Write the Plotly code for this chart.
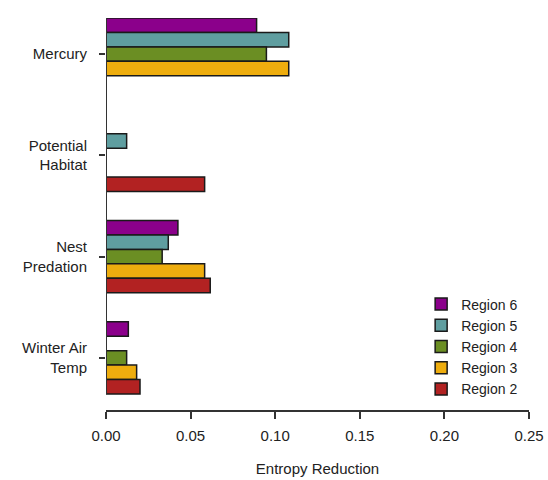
import plotly.graph_objects as go

categories = ["Mercury", "Potential<br>Habitat", "Nest<br>Predation", "Winter Air<br>Temp"]
regions = ["Region 6", "Region 5", "Region 4", "Region 3", "Region 2"]
region6 = [0.089, 0.0, 0.0425, 0.0132]
region5 = [0.108, 0.0122, 0.0368, 0.0]
region4 = [0.0948, 0.0, 0.0332, 0.0122]
region3 = [0.108, 0.0, 0.0583, 0.0181]
region2 = [0.0, 0.0583, 0.0616, 0.0201]
series = [region6, region5, region4, region3, region2]
colors = ["#8B008B", "#5F9EA0", "#6B8E23", "#EEAD0E", "#B22222"]
x_ticks = [0.0, 0.05, 0.10, 0.15, 0.20, 0.25]

FONT = "Liberation Sans, Arial, sans-serif"
TXT = "#222222"
bargap = 0.287
half = (1 - bargap) / 2

fig = go.Figure()
for name, vals, col in zip(regions, series, colors):
    fig.add_trace(go.Bar(
        y=categories, x=vals, name=name, orientation="h",
        marker=dict(color=col, line=dict(color="#1a1a1a", width=1.5)),
    ))

fig.update_layout(
    width=548, height=480,
    margin=dict(l=106, r=19, t=17.5, b=70),
    paper_bgcolor="white", plot_bgcolor="white",
    barmode="group", bargap=bargap, bargroupgap=0,
    font=dict(family=FONT, size=15, color=TXT),
    showlegend=True,
    legend=dict(x=0.745, y=0.31, xanchor="left", yanchor="top",
                bgcolor="rgba(0,0,0,0)", font=dict(size=14, color=TXT),
                tracegroupgap=0),
    xaxis=dict(range=[0, 0.25], tickvals=x_ticks, tickformat=".2f",
               automargin=False,
               showgrid=False, zeroline=False, showline=True,
               linecolor="#333333", linewidth=2, ticks="outside", ticklen=7,
               tickwidth=2, tickcolor="#333333", ticklabelstandoff=4,
               tickfont=dict(size=15, color=TXT),
               title=dict(text="Entropy Reduction", font=dict(size=15, color=TXT), standoff=20)),
    yaxis=dict(type="category", categoryorder="array", categoryarray=categories,
               range=[len(categories) - 1 + half + 0.158, -half],
               automargin=False,
               showgrid=False, zeroline=False, showline=False,
               ticks="outside", ticklen=6, tickwidth=2, tickcolor="#333333",
               ticklabelstandoff=9,
               tickfont=dict(size=15, color=TXT)),
)

fig.add_shape(type="line", xref="x", yref="y",
              x0=0, x1=0, y0=-half, y1=len(categories) - 1 + half,
              line=dict(color="#333333", width=2))

fig.write_html("out.html", config={"displayModeBar": False},
               post_script="document.body.style.margin='0';")
